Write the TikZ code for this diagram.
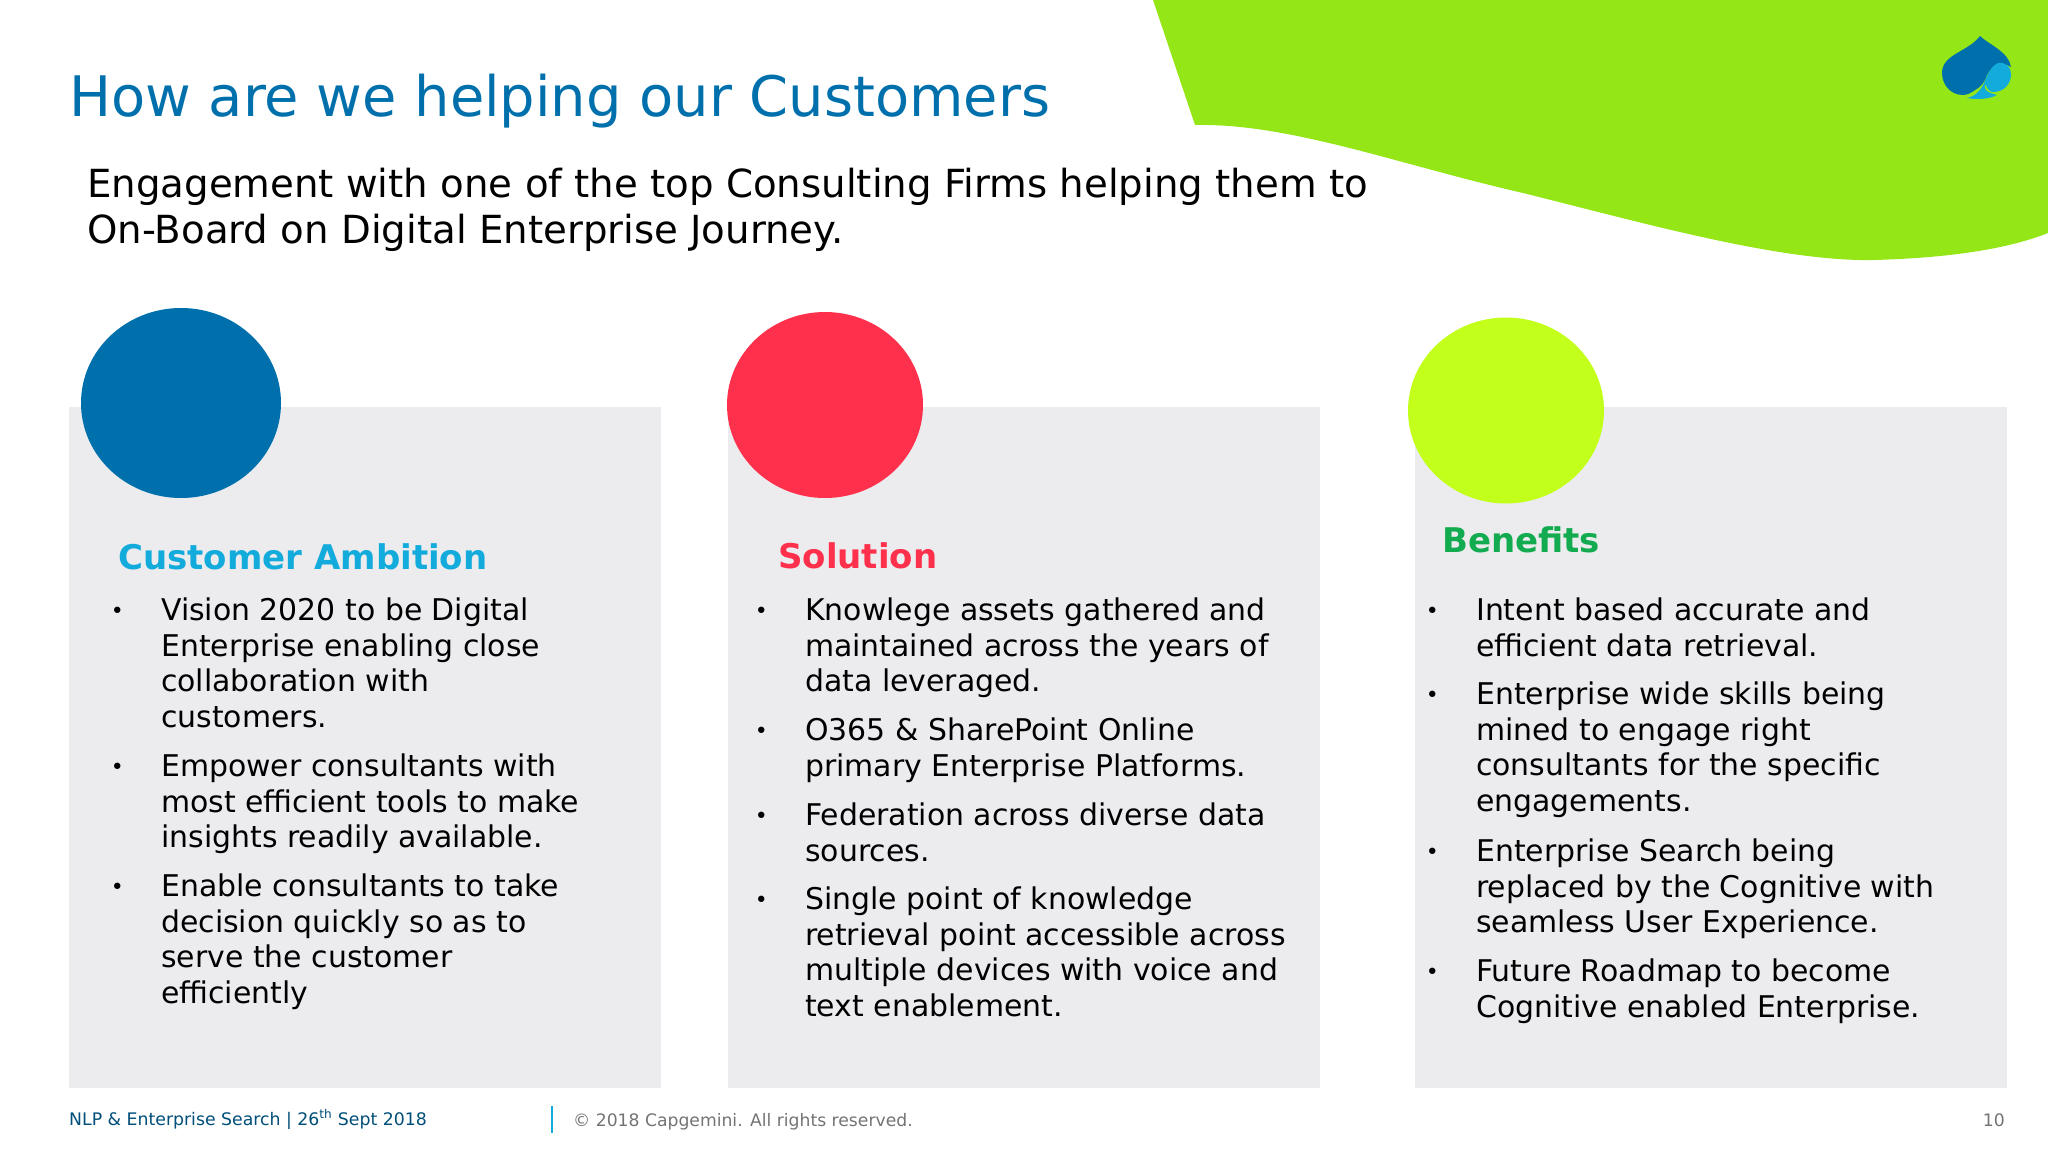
\documentclass[tikz,border=0pt]{standalone}
\usepackage{fontspec}
\setmainfont{DejaVu Sans}
\usetikzlibrary{positioning}
\definecolor{capblue}{HTML}{0070AD}
\definecolor{capsky}{HTML}{12ABDB}
\definecolor{capred}{HTML}{FF304C}
\definecolor{caplime}{HTML}{95E616}
\definecolor{capyellow}{HTML}{C2FF1A}
\definecolor{capgreen}{HTML}{12AB4F}
\definecolor{panelgrey}{HTML}{ECECEF}
\begin{document}
\begin{tikzpicture}[x=1pt,y=-1pt,inner sep=0pt,
panel node/.style={fill=panelgrey,anchor=north west,minimum width=592pt,minimum height=681pt},
head node/.style={anchor=base west,font=\fontsize{34}{42}\selectfont\bfseries},
item node/.style={anchor=north west,align=left,font=\fontsize{29.9}{35.8}\selectfont},
dot node/.style={left=37pt of #1.north west,anchor=north east,yshift=-12pt,font=\fontsize{22}{26}\selectfont}]
\useasboundingbox (0,0) rectangle (2048,1152);
\fill[caplime] (1153,0) -- (1195,125) .. controls (1290,123) and (1400,165) .. (1523,193) .. controls (1640,222) and (1780,262) .. (1874,260) .. controls (1945,258) and (2005,250) .. (2048,233) -- (2048,0) -- cycle;
% logo
\fill[capblue] (1980,36) .. controls (1988,44) and (2009,52) .. (2011,67) .. controls (2000,60) and (1992,66) .. (1987,75) .. controls (1984,84) and (1979,88) .. (1975,90) .. controls (1972,92) and (1968,95) .. (1963,95) .. controls (1950,95) and (1942,84) .. (1942,73) .. controls (1942,54) and (1968,52) .. cycle;
\fill[capsky] (1998,63) .. controls (2006,62) and (2011,67) .. (2011,74) .. controls (2011,84) and (2004,92) .. (1993,92) .. controls (1990,92) and (1988,90) .. (1985,84) .. controls (1984,90) and (1986,92) .. (1997,95) .. controls (1990,99) and (1976,100) .. (1967,98) .. controls (1976,96) and (1982,90) .. (1987,76) .. controls (1990,70) and (1993,65) .. cycle;
\node (title) [anchor=base west,text=capblue,font=\fontsize{55.85}{60}\selectfont] at (69,116) {How are we helping our Customers};
\node (intro) [anchor=north west,align=left,font=\fontsize{38.7}{46}\selectfont] at (87,165) {\strut Engagement with one of the top Consulting Firms helping them to\\On-Board on Digital Enterprise Journey.};
\node[panel node] (panelA) at (69,406.5) {};
\node[panel node] (panelB) at (727.5,406.5) {};
\node[panel node] (panelC) at (1415,406.5) {};
\fill[capblue] (181,403) ellipse [x radius=100,y radius=95];
\fill[capred] (825,405) ellipse [x radius=98,y radius=93];
\fill[capyellow] (1506,410.5) ellipse [x radius=98,y radius=93];
\node[head node,text=capsky] (headA) at (118,569) {Customer Ambition};
\node[head node,text=capred] (headB) at (778,568) {Solution};
\node[head node,text=capgreen] (headC) at (1442,552) {Benefits};
% first column
\node[item node] (a1) at (161,595) {\strut Vision 2020 to be Digital\\Enterprise enabling close\\collaboration with\\customers.};
\node[item node] (a2) at (161,751) {\strut Empower consultants with\\most efficient tools to make\\insights readily available.};
\node[item node] (a3) at (161,871) {\strut Enable consultants to take\\decision quickly so as to\\serve the customer\\efficiently};
\node[dot node=a1] (da1) {•};
\node[dot node=a2] (da2) {•};
\node[dot node=a3] (da3) {•};
% second column
\node[item node] (b1) at (805,595) {\strut Knowlege assets gathered and\\maintained across the years of\\data leveraged.};
\node[item node] (b2) at (805,715) {\strut O365 \& SharePoint Online\\primary Enterprise Platforms.};
\node[item node] (b3) at (805,800) {\strut Federation across diverse data\\sources.};
\node[item node] (b4) at (805,884) {\strut Single point of knowledge\\retrieval point accessible across\\multiple devices with voice and\\text enablement.};
\node[dot node=b1] (db1) {•};
\node[dot node=b2] (db2) {•};
\node[dot node=b3] (db3) {•};
\node[dot node=b4] (db4) {•};
% third column
\node[item node] (c1) at (1476,595) {\strut Intent based accurate and\\efficient data retrieval.};
\node[item node] (c2) at (1476,679) {\strut Enterprise wide skills being\\mined to engage right\\consultants for the specific\\engagements.};
\node[item node] (c3) at (1476,836) {\strut Enterprise Search being\\replaced by the Cognitive with\\seamless User Experience.};
\node[item node] (c4) at (1476,956) {\strut Future Roadmap to become\\Cognitive enabled Enterprise.};
\node[dot node=c1] (dc1) {•};
\node[dot node=c2] (dc2) {•};
\node[dot node=c3] (dc3) {•};
\node[dot node=c4] (dc4) {•};
% footer
\node (foot) [anchor=base west,text=capblue!70!black,font=\fontsize{17.3}{20}\selectfont] at (69,1125) {NLP \& Enterprise Search | 26\textsuperscript{th} Sept 2018};
\coordinate (sepa) at (552,1106);
\coordinate (sepb) at (552,1133);
\draw[capsky,line width=2pt] (sepa) -- (sepb);
\node (copy) [anchor=base west,text=black!55,font=\fontsize{17.2}{20}\selectfont] at (573,1126) {© 2018 Capgemini. All rights reserved.};
\node (page) [anchor=base east,text=black!55,font=\fontsize{17.2}{20}\selectfont] at (2005,1126) {10};
\end{tikzpicture}
\end{document}
